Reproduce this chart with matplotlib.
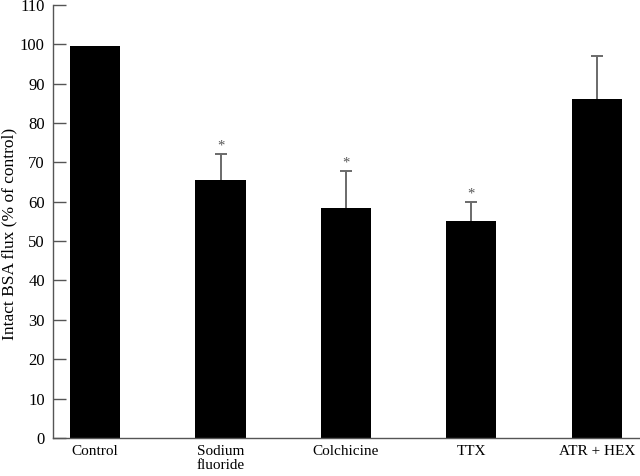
import matplotlib
matplotlib.use('Agg')
import matplotlib.pyplot as plt

# values
groups = ["Control", "Sodium\nfluoride", "Colchicine", "TTX", "ATR + HEX"]
flux = [99.5, 65.4, 58.4, 55.0, 86.1]
err_up = [0.0, 6.8, 9.5, 4.9, 10.8]
signif = [False, True, True, True, False]

plt.rcParams['font.family'] = ['Liberation Serif', 'DejaVu Serif']

fig = plt.figure(figsize=(6.4, 4.76), dpi=100)
ax = fig.add_axes([0.083, 0.080, 0.92, 0.91])

x = list(range(len(groups)))
ax.bar(x, flux, width=0.4, color='black', zorder=2)
for i in x:
    if err_up[i] > 0:
        top = flux[i] + err_up[i]
        ax.vlines(i, flux[i], top, color='#6a6a6a', lw=1.4, zorder=1)
        ax.hlines(top, i - 0.048, i + 0.048, color='#6a6a6a', lw=1.4, zorder=1)
    if signif[i]:
        ax.text(i, flux[i] + err_up[i] + 2.0, '*', ha='center', va='center',
                fontsize=10.5, color='#555555')

ax.set_xlim(-0.335, 4.36)
ax.set_ylim(0, 110)
ax.set_yticks(range(0, 111, 10))
ax.set_xticks(x)
ax.set_xticklabels(groups, fontsize=11, linespacing=1.1)
ax.tick_params(axis='y', direction='in', length=9, width=1, colors='#555555',
               labelcolor='black', labelsize=12, pad=6)
ax.tick_params(axis='x', length=0, pad=5)
ax.set_ylabel('Intact BSA flux (% of control)', fontsize=12.5)
ax.yaxis.set_label_coords(-0.061, 0.47)

for s in ['top', 'right']:
    ax.spines[s].set_visible(False)
for s in ['left', 'bottom']:
    ax.spines[s].set_color('#555555')
    ax.spines[s].set_linewidth(1)

fig.savefig('out.png', dpi=100)
